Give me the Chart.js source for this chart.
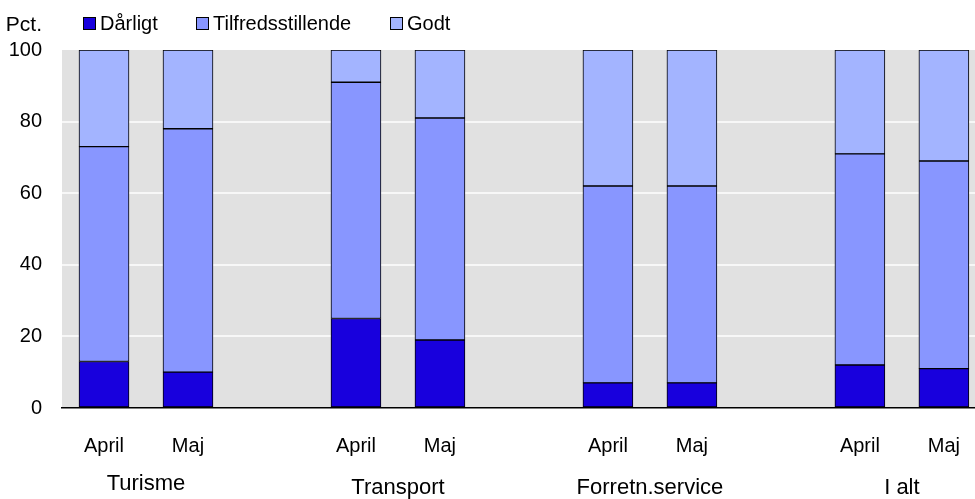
<!DOCTYPE html>
<html>
<head>
<meta charset="utf-8">
<script src="https://cdn.jsdelivr.net/npm/chart.js@4.4.1/dist/chart.umd.min.js"></script>
<style>
  html, body { margin: 0; padding: 0; background: #fff; }
  .wrap { width: 975px; height: 499px; overflow: hidden; }
</style>
</head>
<body>
<div class="wrap"><canvas id="chart" width="986" height="499"></canvas></div>
<script>
// data (pct.)
const groups = ['Turisme', 'Transport', 'Forretn.service', 'I alt'];
const months = ['April', 'Maj'];
const seriesNames = ['Dårligt', 'Tilfredsstillende', 'Godt'];
const darligt = [13, 10, 25, 19, 7, 7, 12, 11];
const tilfreds = [60, 68, 66, 62, 55, 55, 59, 58];
const godt = [27, 22, 9, 19, 38, 38, 29, 31];
const yTicks = [0, 20, 40, 60, 80, 100];

const colors = ['#1800dd', '#8896ff', '#a3b4ff'];
const FONT = '"Liberation Sans", Arial, sans-serif';

// build category slots: April, Maj, (gap), April, Maj, ...
const labels = [];
const slotOf = []; // index into the series for each slot, or -1 for a gap
groups.forEach((g, gi) => {
  months.forEach((m, mi) => {
    labels.push(m);
    slotOf.push(gi * months.length + mi);
  });
  if (gi < groups.length - 1) {
    labels.push('');
    slotOf.push(-1);
  }
});
const spread = arr => slotOf.map(i => (i < 0 ? null : arr[i]));

const bgPlugin = {
  id: 'bg',
  beforeDraw(chart) {
    const { ctx, chartArea: a } = chart;
    ctx.save();
    ctx.fillStyle = '#e1e1e1';
    ctx.fillRect(a.left, a.top, a.right - a.left, a.bottom - a.top);
    ctx.restore();
  }
};

const textPlugin = {
  id: 'texts',
  afterDraw(chart) {
    const ctx = chart.ctx;
    const xs = chart.scales.x;
    ctx.save();
    ctx.fillStyle = '#000';
    ctx.textBaseline = 'alphabetic';

    // unit label
    ctx.font = '21px ' + FONT;
    ctx.textAlign = 'right';
    ctx.fillText('Pct.', 42, 31);

    // legend
    const legendX = [83, 196, 390];
    ctx.font = '20px ' + FONT;
    ctx.textAlign = 'left';
    seriesNames.forEach((name, i) => {
      ctx.fillStyle = colors[i];
      ctx.fillRect(legendX[i], 17.5, 13, 12);
      ctx.strokeStyle = '#000';
      ctx.lineWidth = 1;
      ctx.strokeRect(legendX[i] + 0.5, 17.5, 12, 12);
      ctx.fillStyle = '#000';
      ctx.fillText(name, legendX[i] + 17, 29.5);
    });

    // group labels under the month labels
    ctx.font = '22px ' + FONT;
    ctx.textAlign = 'center';
    const dy = [-4, 0, 0, 0];
    groups.forEach((g, gi) => {
      const i0 = slotOf.indexOf(gi * months.length);
      const i1 = slotOf.indexOf(gi * months.length + months.length - 1);
      const x = (xs.getPixelForValue(i0) + xs.getPixelForValue(i1)) / 2;
      ctx.fillText(g, x, 494 + dy[gi]);
    });
    ctx.restore();
  }
};

new Chart(document.getElementById('chart'), {
  type: 'bar',
  data: {
    labels: labels,
    datasets: [darligt, tilfreds, godt].map((arr, i) => ({
      label: seriesNames[i],
      data: spread(arr),
      backgroundColor: colors[i],
      borderColor: '#000',
      borderWidth: 1,
      borderSkipped: false,
      barThickness: 50
    }))
  },
  options: {
    responsive: false,
    animation: false,
    layout: { padding: { top: 50, right: 0, left: 0, bottom: 0 } },
    plugins: {
      legend: { display: false },
      tooltip: { enabled: false }
    },
    scales: {
      x: {
        stacked: true,
        offset: true,
        grid: { display: false, drawTicks: false },
        border: { display: true, color: '#000', width: 1.5 },
        ticks: {
          color: '#000',
          font: { family: FONT, size: 20 },
          padding: 26,
          maxRotation: 0,
          autoSkip: false
        },
        afterFit(scale) { scale.height = 91; }
      },
      y: {
        stacked: true,
        min: yTicks[0],
        max: yTicks[yTicks.length - 1],
        afterBuildTicks(scale) { scale.ticks = yTicks.map(v => ({ value: v })); },
        grid: {
          drawTicks: false,
          lineWidth: 2,
          color: c => (c.tick.value === 0 || c.tick.value === 100 ? 'rgba(0,0,0,0)' : '#f7f7f7')
        },
        border: { display: false },
        ticks: {
          color: '#000',
          font: { family: FONT, size: 20 },
          padding: 20
        },
        afterFit(scale) { scale.width = 62; }
      }
    }
  },
  plugins: [bgPlugin, textPlugin]
});
</script>
</body>
</html>
